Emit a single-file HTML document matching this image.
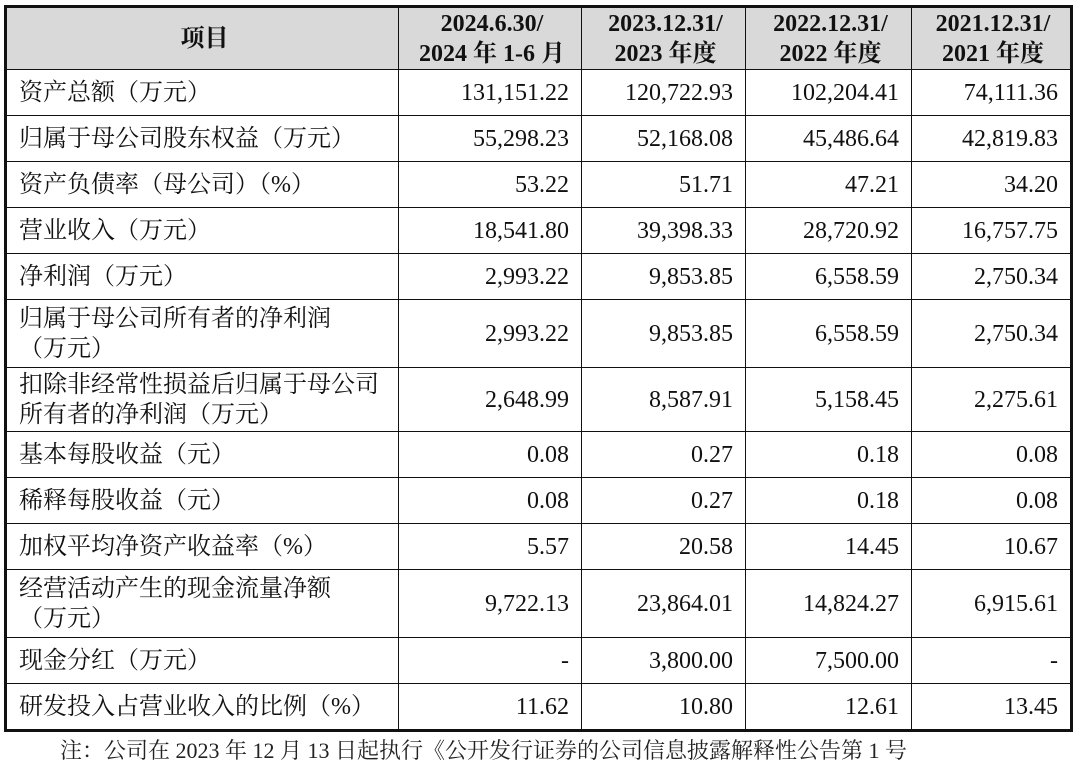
<!DOCTYPE html>
<html><head><meta charset="utf-8"><style>
body{margin:0;width:1080px;height:748px;background:#fff;overflow:hidden;font-family:"Liberation Serif","Noto Serif CJK SC",serif;color:#111;}
table{position:absolute;left:4px;top:5px;border-collapse:collapse;border:3px solid #111;table-layout:fixed;}
td{border:1.5px solid #111;font-size:24px;padding:0 8px 0 12px;line-height:30px;white-space:nowrap;overflow:hidden;}
td.n{text-align:right;padding-right:12px;}
tr.h td{background:#d9d9d9;font-weight:bold;text-align:center;font-size:24px;line-height:30px;}
.note{position:absolute;left:60px;top:734px;font-size:22px;color:#222;white-space:nowrap;}
</style></head><body>
<table>
<colgroup><col style="width:393px"><col style="width:183px"><col style="width:164px"><col style="width:166px"><col style="width:160px"></colgroup>
<tr class="h" style="height:63px"><td>项目</td><td>2024.6.30/<br>2024 年 1-6 月</td><td>2023.12.31/<br>2023 年度</td><td>2022.12.31/<br>2022 年度</td><td>2021.12.31/<br>2021 年度</td></tr>
<tr style="height:46px"><td>资产总额（万元）</td><td class="n">131,151.22</td><td class="n">120,722.93</td><td class="n">102,204.41</td><td class="n">74,111.36</td></tr>
<tr style="height:46px"><td>归属于母公司股东权益（万元）</td><td class="n">55,298.23</td><td class="n">52,168.08</td><td class="n">45,486.64</td><td class="n">42,819.83</td></tr>
<tr style="height:46px"><td>资产负债率（母公司）（%）</td><td class="n">53.22</td><td class="n">51.71</td><td class="n">47.21</td><td class="n">34.20</td></tr>
<tr style="height:46px"><td>营业收入（万元）</td><td class="n">18,541.80</td><td class="n">39,398.33</td><td class="n">28,720.92</td><td class="n">16,757.75</td></tr>
<tr style="height:46px"><td>净利润（万元）</td><td class="n">2,993.22</td><td class="n">9,853.85</td><td class="n">6,558.59</td><td class="n">2,750.34</td></tr>
<tr style="height:68px"><td>归属于母公司所有者的净利润<br>（万元）</td><td class="n">2,993.22</td><td class="n">9,853.85</td><td class="n">6,558.59</td><td class="n">2,750.34</td></tr>
<tr style="height:64px"><td>扣除非经常性损益后归属于母公司<br>所有者的净利润（万元）</td><td class="n">2,648.99</td><td class="n">8,587.91</td><td class="n">5,158.45</td><td class="n">2,275.61</td></tr>
<tr style="height:46px"><td>基本每股收益（元）</td><td class="n">0.08</td><td class="n">0.27</td><td class="n">0.18</td><td class="n">0.08</td></tr>
<tr style="height:46px"><td>稀释每股收益（元）</td><td class="n">0.08</td><td class="n">0.27</td><td class="n">0.18</td><td class="n">0.08</td></tr>
<tr style="height:46px"><td>加权平均净资产收益率（%）</td><td class="n">5.57</td><td class="n">20.58</td><td class="n">14.45</td><td class="n">10.67</td></tr>
<tr style="height:68px"><td>经营活动产生的现金流量净额<br>（万元）</td><td class="n">9,722.13</td><td class="n">23,864.01</td><td class="n">14,824.27</td><td class="n">6,915.61</td></tr>
<tr style="height:46px"><td>现金分红（万元）</td><td class="n">-</td><td class="n">3,800.00</td><td class="n">7,500.00</td><td class="n">-</td></tr>
<tr style="height:47px"><td>研发投入占营业收入的比例（%）</td><td class="n">11.62</td><td class="n">10.80</td><td class="n">12.61</td><td class="n">13.45</td></tr>
</table>
<div class="note">注：公司在 2023 年 12 月 13 日起执行《公开发行证券的公司信息披露解释性公告第 1 号</div>
</body></html>
